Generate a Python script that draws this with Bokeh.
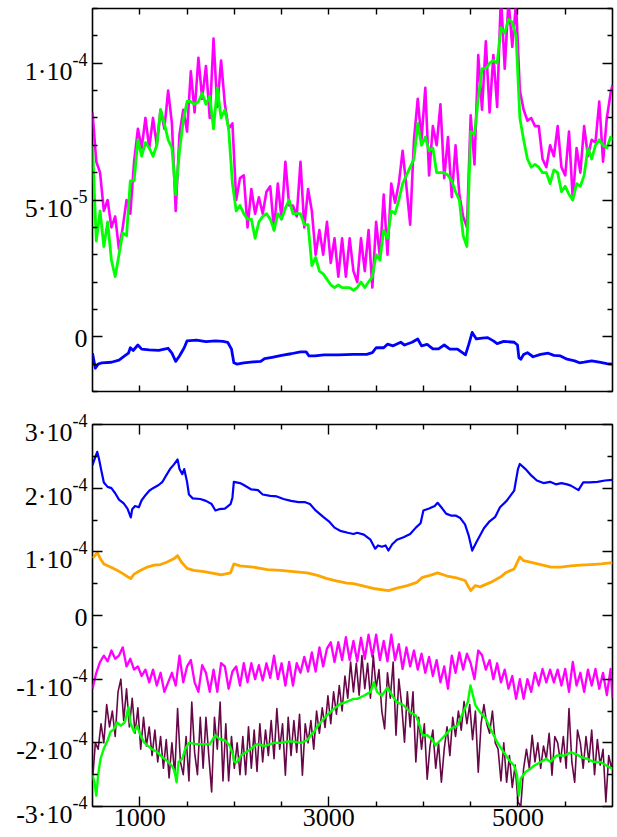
from bokeh.plotting import figure
from bokeh.models import Range1d, FixedTicker, LinearAxis
from bokeh.layouts import column, row
from bokeh.core.properties import value
from bokeh.embed import file_html
from bokeh.resources import INLINE

FONT = "Liberation Serif"

# ---------------- data ----------------
# common x grid (step 40) for the oscillating series
x_osc = [500,540,580,620,660,700,740,780,820,860,900,940,980,1020,1060,1100,1140,1180,1220,1260,
         1300,1340,1380,1420,1460,1500,1540,1580,1620,1660,1700,1740,1780,1820,1860,1900,1940,1980,2020,2060,
         2100,2140,2180,2220,2260,2300,2340,2380,2420,2460,2500,2540,2580,2620,2660,2700,2740,2780,2820,2860,
         2900,2940,2980,3020,3060,3100,3140,3180,3220,3260,3300,3340,3380,3420,3460,3500,3540,3580,3620,3660,
         3700,3740,3780,3820,3860,3900,3940,3980,4020,4060,4100,4140,4180,4220,4260,4300,4340,4380,4420,4460,
         4500,4540,4580,4620,4660,4700,4740,4780,4820,4860,4900,4940,4980,5020,5060,5100,5140,5180,5220,5260,
         5300,5340,5380,5420,5460,5500,5540,5580,5620,5660,5700,5740,5780,5820,5860,5900,5940,5980,6000]

# top panel, values in units of 1e-5
top_magenta = [8.2,6.4,6.0,4.6,5.0,4.0,4.4,3.2,4.0,5.0,
               4.5,6.4,7.6,6.9,8.0,6.9,8.0,7.0,8.3,7.6,
               9.0,7.8,4.6,7.4,8.3,7.5,9.7,8.2,10.2,8.7,
               9.9,8.0,10.9,8.4,10.1,8.5,7.6,7.8,5.0,5.8,
               5.9,4.0,5.4,4.5,5.1,4.5,5.3,5.5,3.9,5.6,
               4.3,6.4,4.8,4.8,4.4,6.4,4.0,5.4,4.6,3.0,
               3.9,3.0,4.2,2.7,3.6,2.2,3.6,2.2,3.6,2.4,
               2.0,3.6,2.4,3.9,1.8,4.2,2.9,5.2,3.0,5.6,
               4.9,5.6,6.8,5.5,4.1,7.2,8.7,7.2,9.1,5.9,
               7.7,7.0,8.5,5.8,7.3,5.1,7.0,5.2,4.4,4.0,
               8.1,6.3,10.3,8.3,10.8,8.2,10.3,8.4,12.5,9.8,
               12.3,10.6,12.2,9.0,8.3,7.9,8.0,7.7,7.7,6.5,
               6.2,7.0,6.6,7.7,6.2,5.9,7.5,5.0,6.9,6.0,
               7.7,6.6,7.2,7.1,8.6,6.4,8.0,8.9,9.2]
top_green = [7.0,3.5,4.6,3.3,4.2,2.8,2.2,3.0,3.8,3.7,
             5.7,5.7,7.2,6.6,7.1,6.9,6.6,7.0,8.3,7.8,
             7.2,6.9,5.2,6.8,7.9,8.6,8.6,8.5,8.6,8.9,
             8.5,8.8,7.6,9.1,8.0,8.3,7.6,5.6,4.6,4.8,
             4.5,4.3,4.3,3.6,4.2,4.4,4.5,4.3,3.9,4.5,
             4.3,4.7,5.0,4.5,4.5,4.5,4.1,4.1,2.6,2.9,
             2.4,2.3,2.1,1.9,1.8,1.9,1.8,1.8,1.8,1.7,
             1.8,2.0,1.8,2.0,2.2,3.0,2.8,3.9,3.6,4.6,
             4.5,5.0,5.6,5.9,6.2,6.5,7.8,7.0,7.3,6.8,
             6.9,6.0,6.0,6.0,5.9,5.7,5.3,5.0,3.7,3.3,
             7.5,7.4,8.7,9.8,9.8,10.0,10.1,10.0,11.3,11.1,
             11.6,11.5,11.0,8.0,7.2,6.5,6.2,6.3,6.2,6.0,
             6.0,5.6,6.1,6.0,5.3,5.5,5.2,5.0,5.6,5.5,
             5.9,6.9,6.5,7.0,7.2,7.0,6.9,7.3,7.2]
top_blue_x = [500,530,560,600,700,780,840,880,900,930,980,1020,1100,1200,1260,1300,1340,1380,1420,1470,
              1500,1600,1700,1800,1880,1930,1970,1995,2030,2100,2200,2280,2320,2400,2500,2600,2700,2760,2790,2850,
              2950,3100,3260,3400,3460,3500,3580,3620,3680,3760,3800,3880,3940,3980,4040,4100,4160,4220,4280,4360,
              4420,4445,4480,4516,4560,4620,4680,4740,4780,4850,4960,4995,5010,5030,5060,5100,5160,5240,5320,5380,
              5450,5520,5600,5650,5700,5780,5860,5940,6000]
top_blue = [-0.6,-1.15,-1.0,-0.95,-0.93,-0.85,-0.7,-0.6,-0.4,-0.5,-0.3,-0.45,-0.48,-0.5,-0.45,-0.42,-0.6,-0.9,-0.7,-0.4,
            -0.15,-0.12,-0.18,-0.15,-0.17,-0.2,-0.45,-0.95,-1.0,-0.95,-0.92,-0.9,-0.8,-0.75,-0.68,-0.62,-0.55,-0.55,-0.7,-0.7,
            -0.66,-0.66,-0.64,-0.64,-0.58,-0.4,-0.4,-0.27,-0.33,-0.2,-0.3,-0.2,-0.08,-0.33,-0.28,-0.44,-0.44,-0.3,-0.45,-0.45,
            -0.6,-0.66,-0.28,0.16,-0.08,-0.05,-0.03,-0.15,-0.25,-0.17,-0.2,-0.3,-0.76,-0.82,-0.65,-0.58,-0.73,-0.64,-0.6,-0.68,
            -0.7,-0.82,-0.88,-0.95,-0.93,-0.88,-0.93,-0.98,-1.0]

# bottom panel, values in units of 1e-4
bot_blue_x = [500,530,550,570,590,620,660,700,740,780,830,870,890,905,920,950,990,1020,1060,1100,
              1140,1200,1240,1280,1320,1360,1400,1420,1450,1470,1500,1520,1560,1640,1700,1760,1800,1840,1900,1960,
              1980,1995,2060,2100,2180,2250,2300,2380,2450,2520,2600,2680,2750,2800,2860,2940,3000,3060,3120,3200,
              3260,3300,3370,3440,3490,3520,3560,3600,3630,3670,3720,3790,3860,3920,3970,4000,4060,4120,4150,4200,
              4240,4290,4340,4390,4440,4480,4516,4560,4600,4640,4700,4760,4810,4880,4960,5000,5020,5080,5140,5200,
              5270,5340,5400,5460,5520,5560,5640,5690,5760,5840,5920,6000]
bot_blue = [2.36,2.49,2.57,2.45,2.3,2.09,2.02,2.0,1.92,1.82,1.76,1.68,1.6,1.54,1.67,1.72,1.7,1.81,1.89,1.96,
            2.0,2.05,2.1,2.2,2.3,2.37,2.45,2.3,2.22,2.3,2.1,1.9,1.84,1.83,1.8,1.75,1.65,1.67,1.68,1.75,
            1.85,2.1,2.08,2.05,1.98,1.97,1.9,1.88,1.87,1.83,1.8,1.78,1.78,1.75,1.65,1.55,1.48,1.38,1.33,1.3,
            1.28,1.3,1.27,1.19,1.05,1.1,1.08,1.1,1.02,1.12,1.19,1.23,1.28,1.38,1.45,1.65,1.68,1.72,1.77,1.68,
            1.6,1.57,1.57,1.53,1.43,1.25,1.02,1.15,1.26,1.37,1.48,1.55,1.7,1.8,1.96,2.3,2.38,2.3,2.2,2.12,
            2.08,2.1,2.06,2.08,2.06,2.04,1.97,2.09,2.09,2.1,2.12,2.13]
bot_orange_x = [500,530,550,580,620,690,760,830,880,905,940,1010,1080,1150,1220,1290,1360,1400,1440,1500,
                1570,1680,1780,1860,1960,1995,2060,2200,2350,2490,2630,2770,2880,2980,3090,3190,3260,3370,3490,3630,
                3720,3830,3930,3990,4070,4150,4250,4350,4440,4500,4550,4600,4710,4810,4880,4960,5020,5060,5130,5240,
                5350,5450,5560,5660,5770,5880,6000]
bot_orange = [0.9,0.95,0.99,0.9,0.81,0.76,0.71,0.65,0.6,0.58,0.65,0.71,0.76,0.79,0.8,0.84,0.89,0.94,0.84,0.74,
              0.71,0.69,0.66,0.64,0.67,0.81,0.78,0.76,0.72,0.71,0.69,0.67,0.63,0.58,0.54,0.51,0.5,0.46,0.42,0.39,
              0.43,0.47,0.52,0.6,0.63,0.67,0.62,0.59,0.55,0.39,0.47,0.45,0.52,0.6,0.68,0.73,0.92,0.86,0.84,0.8,
              0.76,0.76,0.78,0.79,0.8,0.81,0.83]
bot_magenta = [-1.15,-0.9,-0.73,-0.63,-0.72,-0.55,-0.68,-0.63,-0.5,-0.8,
               -0.68,-0.85,-0.8,-0.95,-0.85,-1.05,-0.85,-1.1,-0.9,-1.2,
               -1.05,-0.9,-1.1,-0.63,-1.05,-0.8,-0.7,-1.05,-1.2,-0.78,
               -0.9,-1.2,-0.85,-1.2,-0.75,-0.8,-1.15,-0.88,-0.8,-1.1,
               -0.75,-1.05,-0.75,-1.0,-0.78,-1.02,-0.75,-0.98,-0.63,-1.0,
               -0.75,-1.1,-0.73,-1.1,-0.75,-0.9,-0.65,-0.88,-0.58,-0.88,
               -0.5,-0.8,-0.52,-0.42,-0.73,-0.42,-0.7,-0.34,-0.7,-0.4,
               -0.72,-0.35,-0.68,-0.3,-0.65,-0.3,-0.7,-0.4,-0.72,-0.3,
               -0.7,-0.45,-0.84,-0.5,-0.8,-0.55,-0.85,-0.6,-0.9,-0.65,
               -0.95,-0.7,-1.05,-0.8,-1.15,-0.63,-0.9,-0.58,-0.85,-0.6,
               -0.75,-1.0,-0.55,-0.62,-0.85,-0.7,-1.0,-0.75,-1.05,-0.85,
               -1.15,-0.95,-1.31,-1.0,-1.31,-1.0,-1.2,-0.9,-1.1,-0.84,
               -1.05,-0.85,-1.05,-0.85,-1.1,-0.84,-1.2,-0.73,-1.1,-0.9,
               -1.2,-0.85,-1.1,-0.84,-1.15,-0.9,-1.25,-0.84,-1.3]
bot_maroon_x = [500,530,560,590,620,650,680,710,740,770,800,830,860,890,920,950,980,1010,1040,1070,
                1100,1130,1160,1190,1220,1250,1280,1310,1340,1370,1400,1430,1460,1490,1520,1550,1580,1610,1640,1670,
                1700,1730,1760,1790,1820,1850,1880,1910,1940,1970,2000,2030,2060,2090,2120,2150,2180,2210,2240,2270,
                2300,2330,2360,2390,2420,2450,2480,2510,2540,2570,2600,2630,2660,2690,2720,2750,2780,2810,2840,2870,
                2900,2930,2960,2990,3020,3050,3080,3110,3140,3170,3200,3230,3260,3290,3320,3350,3380,3410,3440,3470,
                3500,3530,3560,3590,3620,3650,3680,3710,3740,3770,3800,3830,3860,3890,3920,3950,3980,4010,4040,4070,
                4100,4130,4160,4190,4220,4250,4280,4310,4340,4370,4400,4430,4460,4490,4520,4550,4580,4610,4640,4670,
                4700,4730,4760,4790,4820,4850,4880,4910,4940,4970,5000,5030,5060,5090,5120,5150,5180,5210,5240,5270,
                5300,5330,5360,5390,5420,5450,5480,5510,5540,5570,5600,5630,5660,5690,5720,5750,5780,5810,5840,5870,
                5900,5930,5960,5990,6000]
bot_maroon = [-2.6,-2.0,-2.1,-1.7,-2.0,-1.4,-1.75,-1.5,-1.9,-1.2,
              -1.0,-1.65,-1.15,-1.75,-1.3,-1.85,-1.45,-2.1,-1.6,-2.05,
              -1.75,-2.2,-1.8,-2.3,-1.9,-2.4,-1.95,-2.55,-2.0,-2.5,
              -1.46,-2.3,-2.5,-1.9,-2.6,-1.36,-2.15,-2.5,-1.6,-2.4,
              -1.6,-2.2,-2.77,-1.6,-2.1,-1.36,-2.6,-1.7,-2.6,-1.9,
              -2.4,-2.0,-2.5,-1.9,-2.5,-1.75,-2.4,-1.8,-2.45,-1.7,
              -2.3,-1.8,-2.2,-1.65,-2.25,-1.46,-2.1,-1.7,-2.51,-1.6,
              -2.2,-1.65,-2.15,-1.55,-2.51,-1.7,-2.0,-1.65,-2.1,-1.5,
              -1.85,-1.45,-1.76,-1.26,-1.7,-1.2,-1.55,-1.1,-1.5,-0.95,
              -1.3,-0.73,-1.2,-0.75,-1.25,-0.63,-1.15,-0.75,-1.3,-0.63,
              -1.15,-0.85,-1.5,-1.78,-0.9,-1.3,-0.73,-1.88,-1.0,-1.4,
              -1.99,-1.2,-1.75,-1.2,-2.3,-1.6,-2.1,-1.7,-2.57,-2.05,
              -1.8,-2.4,-2.0,-2.62,-2.1,-1.75,-2.2,-1.6,-1.9,-1.5,
              -1.8,-1.35,-1.7,-1.4,-1.95,-1.5,-2.46,-1.7,-1.4,-1.7,
              -1.85,-1.5,-2.0,-2.1,-2.6,-2.0,-2.62,-2.2,-2.7,-2.35,
              -2.93,-3.0,-2.4,-2.1,-2.4,-1.88,-2.3,-2.0,-2.4,-2.05,
              -2.25,-1.85,-2.51,-1.9,-2.0,-2.3,-1.9,-2.4,-1.46,-2.3,
              -2.62,-1.8,-2.0,-2.4,-1.9,-2.3,-1.8,-2.5,-1.95,-2.35,
              -2.1,-2.93,-2.2,-2.4,-2.3]
bot_green_x = [500,520,540,560,585,620,660,690,730,760,800,840,860,880,900,940,970,1010,1050,1080,
               1130,1180,1220,1260,1300,1340,1370,1389,1410,1450,1480,1520,1600,1680,1740,1800,1840,1900,1950,1990,
               2000,2030,2070,2120,2170,2240,2320,2420,2490,2560,2630,2700,2770,2810,2840,2910,2980,3050,3120,3180,
               3260,3300,3370,3440,3476,3510,3560,3620,3670,3720,3790,3860,3920,3950,3990,4040,4090,4128,4180,4230,
               4290,4360,4420,4470,4498,4550,4600,4660,4710,4780,4850,4920,4960,4990,5010,5030,5080,5130,5170,5240,
               5300,5340,5410,5490,5560,5620,5660,5730,5800,5870,5940,6000]
bot_green = [-2.5,-2.62,-2.83,-2.5,-2.25,-2.09,-1.96,-1.83,-1.78,-1.68,-1.73,-1.68,-1.57,-1.44,-1.68,-1.83,-1.73,-1.89,-2.0,-2.04,
             -2.1,-2.14,-2.2,-2.25,-2.3,-2.36,-2.45,-2.62,-2.3,-2.25,-2.1,-2.0,-2.02,-2.02,-2.02,-1.88,-1.94,-1.96,-2.04,-2.2,
             -2.3,-2.3,-2.2,-2.15,-2.1,-2.02,-2.05,-2.0,-2.0,-1.98,-1.98,-2.0,-1.96,-1.88,-1.83,-1.68,-1.57,-1.47,-1.39,-1.36,
             -1.31,-1.31,-1.26,-1.2,-1.05,-1.2,-1.26,-1.13,-1.26,-1.36,-1.41,-1.52,-1.57,-1.68,-1.88,-1.88,-1.94,-2.04,-1.96,-1.88,
             -1.78,-1.73,-1.52,-1.36,-1.1,-1.41,-1.52,-1.62,-1.78,-1.99,-2.15,-2.3,-2.36,-2.51,-2.83,-2.56,-2.46,-2.41,-2.36,-2.3,
             -2.25,-2.3,-2.2,-2.2,-2.15,-2.18,-2.22,-2.25,-2.3,-2.3,-2.36,-2.41]

for a, b in [(x_osc, top_magenta), (x_osc, top_green), (top_blue_x, top_blue),
             (bot_blue_x, bot_blue), (bot_orange_x, bot_orange), (x_osc, bot_magenta),
             (bot_maroon_x, bot_maroon), (bot_green_x, bot_green)]:
    assert len(a) == len(b), (len(a), len(b))

# ---------------- ticks and tick labels ----------------
X_START, X_END = 500, 6000
top_x_ticks = [1000, 1500, 2000, 2500, 3000, 3500, 4000, 4500, 5000, 5500]
top_y_major = [0, 5, 10]
top_y_minor = [-2, -1, 1, 2, 3, 4, 6, 7, 8, 9, 11, 12]
top_y_main = ["0", "5·10", "1·10"]
top_y_sup = ["", "-5", "-4"]

bot_x_major = [1000, 3000, 5000]
bot_x_minor = [1500, 2000, 2500, 3500, 4000, 4500, 5500]
bot_x_labels = ["1000", "3000", "5000"]
bot_y_major = [-3, -2, -1, 0, 1, 2, 3]
bot_y_minor = [-2.5, -1.5, -0.5, 0.5, 1.5, 2.5]
bot_y_main = ["-3·10", "-2·10", "-1·10", "0", "1·10", "2·10", "3·10"]
bot_y_sup = ["-4", "-4", "-4", "", "-4", "-4", "-4"]

# layout (pixels)
LABEL_W = 89          # width of the strip holding the y tick labels
MAIN_W = 617 - LABEL_W
SUP_RIGHT = 87        # right edge of exponent text inside the strip
MAIN_RIGHT = 72       # right edge of mantissa text when an exponent follows


def make_fig(height, y0, y1, b_top, b_bottom):
    p = figure(width=MAIN_W, height=height, x_range=Range1d(X_START, X_END), y_range=Range1d(y0, y1),
               output_backend="svg", toolbar_location=None,
               x_axis_location=None, y_axis_location=None,
               min_border_left=3, min_border_right=5, min_border_top=b_top, min_border_bottom=b_bottom)
    p.frame_align = False
    p.xgrid.visible = False
    p.ygrid.visible = False
    p.outline_line_color = "black"
    p.outline_line_width = 1.6
    p.outline_line_alpha = 1.0
    p.background_fill_color = "white"
    p.border_fill_color = "white"
    return p


def tick_only_axis(p, side, positions, length):
    ax = LinearAxis(ticker=FixedTicker(ticks=[], minor_ticks=positions))
    ax.axis_line_color = None
    ax.major_tick_in = 0
    ax.major_tick_out = 0
    ax.minor_tick_in = length
    ax.minor_tick_out = 0
    ax.minor_tick_line_color = "black"
    ax.minor_tick_line_width = 1.4
    ax.major_label_standoff = 0
    p.add_layout(ax, side)


def labelled_axis(p, side, major, minor, labels, major_len, minor_len, standoff):
    ax = LinearAxis(ticker=FixedTicker(ticks=major, minor_ticks=minor))
    ax.axis_line_color = None
    ax.major_tick_in = major_len
    ax.major_tick_out = 0
    ax.minor_tick_in = minor_len
    ax.minor_tick_out = 0
    ax.major_tick_line_color = "black"
    ax.minor_tick_line_color = "black"
    ax.major_tick_line_width = 1.4
    ax.minor_tick_line_width = 1.4
    ax.major_label_overrides = {v: t for v, t in zip(major, labels)}
    ax.major_label_text_font = FONT
    ax.major_label_text_font_size = "26px"
    ax.major_label_text_color = "black"
    ax.major_label_standoff = standoff
    p.add_layout(ax, side)


def label_strip(height, y0, y1, b_top, b_bottom, ticks, mains, sups):
    # strip left of the frame; its y scale lines up with the panel's frame
    frame_h = height - b_top - b_bottom
    per_px = (y1 - y0) / frame_h
    s = figure(width=LABEL_W, height=height, x_range=Range1d(0, LABEL_W),
               y_range=Range1d(y0 - b_bottom * per_px, y1 + b_top * per_px),
               output_backend="svg", toolbar_location=None,
               x_axis_location=None, y_axis_location=None,
               min_border_left=0, min_border_right=0, min_border_top=0, min_border_bottom=0)
    s.frame_align = False
    s.xgrid.visible = False
    s.ygrid.visible = False
    s.outline_line_color = None
    s.background_fill_color = "white"
    s.border_fill_color = "white"
    with_sup = [i for i, t in enumerate(sups) if t]
    plain = [i for i, t in enumerate(sups) if not t]
    s.text(x=[MAIN_RIGHT] * len(with_sup), y=[ticks[i] for i in with_sup], text=[mains[i] for i in with_sup],
           text_align="right", text_baseline="middle", y_offset=8,
           text_font=value(FONT), text_font_size="26px", text_color="black")
    s.text(x=[SUP_RIGHT] * len(with_sup), y=[ticks[i] for i in with_sup], text=[sups[i] for i in with_sup],
           text_align="right", text_baseline="middle", y_offset=-4,
           text_font=value(FONT), text_font_size="18px", text_color="black")
    s.text(x=[SUP_RIGHT] * len(plain), y=[ticks[i] for i in plain], text=[mains[i] for i in plain],
           text_align="right", text_baseline="middle", y_offset=2,
           text_font=value(FONT), text_font_size="26px", text_color="black")
    return s


# ---------------- top panel (values in 1e-5) ----------------
TOP_H, TOP_BT, TOP_BB = 410, 8, 19
top = make_fig(TOP_H, -2, 12, TOP_BT, TOP_BB)
tick_only_axis(top, "below", top_x_ticks, 6)
tick_only_axis(top, "above", top_x_ticks, 6)
tick_only_axis(top, "left", top_y_major, 10)
tick_only_axis(top, "left", top_y_minor, 5)
tick_only_axis(top, "right", top_y_major, 10)
tick_only_axis(top, "right", top_y_minor, 5)

top.line(x_osc, top_magenta, line_color="#FF00FF", line_width=2.6, line_join="round")
top.line(x_osc, top_green, line_color="#00FF00", line_width=2.8, line_join="round")
top.line(top_blue_x, top_blue, line_color="#0000FF", line_width=2.8, line_join="round")

top_strip = label_strip(TOP_H, -2, 12, TOP_BT, TOP_BB, top_y_major, top_y_main, top_y_sup)

# ---------------- bottom panel (values in 1e-4) ----------------
BOT_H, BOT_BT, BOT_BB = 427, 14, 31
bot = make_fig(BOT_H, -3, 3, BOT_BT, BOT_BB)
labelled_axis(bot, "below", bot_x_major, bot_x_minor, bot_x_labels, 10, 5, 2)
tick_only_axis(bot, "above", bot_x_major, 10)
tick_only_axis(bot, "above", bot_x_minor, 5)
tick_only_axis(bot, "left", bot_y_major, 10)
tick_only_axis(bot, "left", bot_y_minor, 5)
tick_only_axis(bot, "right", bot_y_major, 10)
tick_only_axis(bot, "right", bot_y_minor, 5)

bot.line(bot_blue_x, bot_blue, line_color="#0000FF", line_width=2.2, line_join="round")
bot.line(bot_orange_x, bot_orange, line_color="#FFA500", line_width=2.8, line_join="round")
bot.line(x_osc, bot_magenta, line_color="#FF00FF", line_width=2.3, line_join="round")
bot.line(bot_maroon_x, bot_maroon, line_color="#670748", line_width=1.6, line_join="round")
bot.line(bot_green_x, bot_green, line_color="#00FF00", line_width=2.4, line_join="round")

bot_strip = label_strip(BOT_H, -3, 3, BOT_BT, BOT_BB, bot_y_major, bot_y_main, bot_y_sup)

layout = column(row(top_strip, top, spacing=0), row(bot_strip, bot, spacing=0), spacing=0)
open("out.html", "w").write(file_html(layout, INLINE))
